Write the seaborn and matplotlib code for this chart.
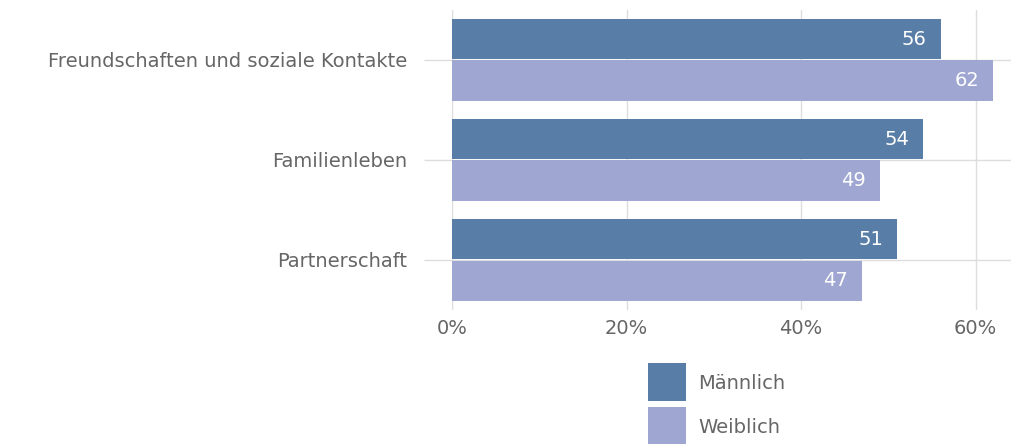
import matplotlib
matplotlib.use("Agg")
import matplotlib.pyplot as plt
import seaborn as sns
import pandas as pd
from matplotlib.lines import Line2D
from matplotlib.ticker import FuncFormatter

# ------------------------------------------------------------
# Data
# ------------------------------------------------------------

categories = ["Freundschaften und soziale Kontakte", "Familienleben", "Partnerschaft"]
groups = ["Männlich", "Weiblich"]
male_values = [56, 54, 51]
female_values = [62, 49, 47]
x_ticks = [0, 20, 40, 60]

colors = {"Männlich": "#587da6", "Weiblich": "#9ea6d1"}
text_gray = "#666666"
grid_gray = "#dddddd"

df = pd.DataFrame({
    "Kategorie": categories * 2,
    "Geschlecht": [groups[0]] * len(categories) + [groups[1]] * len(categories),
    "Wert": male_values + female_values,
})

# ------------------------------------------------------------
# Plot
# ------------------------------------------------------------

sns.set_style("white")
plt.rcParams["font.family"] = ["DejaVu Sans"]

fig = plt.figure(figsize=(10.12, 4.44), dpi=100)
ax = fig.add_axes([0.4466, 0.302, 0.552, 0.676])

sns.barplot(
    data=df, y="Kategorie", x="Wert", hue="Geschlecht",
    order=categories, hue_order=groups, palette=colors,
    orient="h", width=0.83, gap=0.03, saturation=1,
    linewidth=0, legend=False, ax=ax,
)

ax.set_xlim(0, 64)
ax.set_ylim(2.5, -0.5)
ax.set_xticks(x_ticks)
ax.xaxis.set_major_formatter(FuncFormatter(lambda v, _: f"{v:.0f}%"))
ax.set_xlabel("")
ax.set_ylabel("")

for s in ax.spines.values():
    s.set_visible(False)

ax.set_axisbelow(True)
ax.grid(True, axis="both", color=grid_gray, linewidth=1)
ax.tick_params(axis="x", bottom=False, labelsize=14, labelcolor=text_gray, pad=3)
ax.tick_params(axis="y", left=True, length=20, width=1, color=grid_gray,
               labelsize=14, labelcolor=text_gray, pad=12)

# value labels inside the bars
for patch in ax.patches:
    w = patch.get_width()
    if w <= 0:
        continue
    ax.text(w - 1.6, patch.get_y() + patch.get_height() / 2, f"{w:.0f}",
            ha="right", va="center", color="white", fontsize=14)

handles = [
    Line2D([], [], marker="s", markersize=27.4, linestyle="none",
           markerfacecolor=colors[g], markeredgewidth=0, label=g)
    for g in groups
]
fig.legend(
    handles=handles, loc="lower left", bbox_to_anchor=(0.6285, -0.01),
    frameon=False, fontsize=14, labelcolor=text_gray,
    handlelength=2.0, handletextpad=0.59, labelspacing=1.27,
    borderaxespad=0.2,
)

fig.savefig("out.png", dpi=100)
